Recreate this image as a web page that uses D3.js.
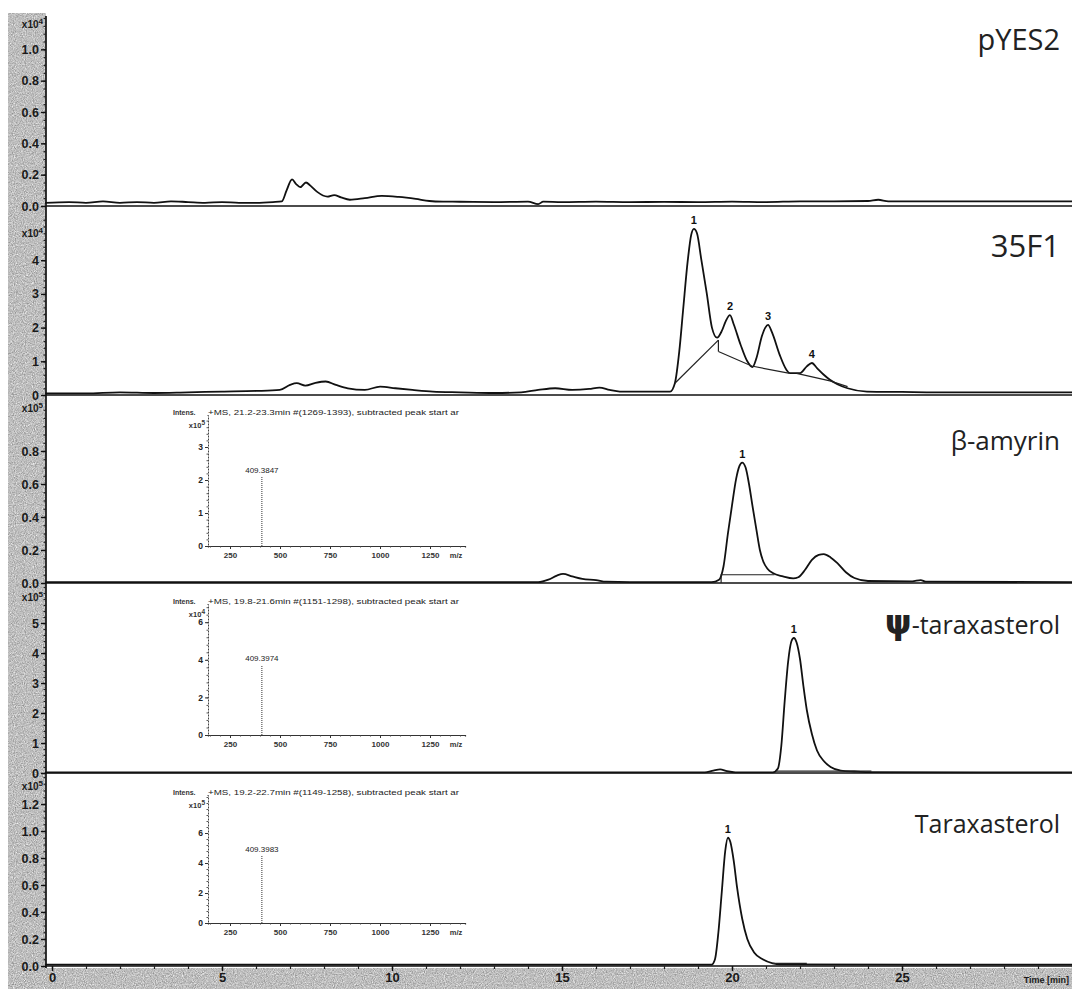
<!DOCTYPE html>
<html><head><meta charset="utf-8">
<script src="https://cdn.jsdelivr.net/npm/d3@7"></script>
<style>body{margin:0;background:#fff}svg{display:block}</style>
</head><body><script>
// ---------- DATA ----------
const timeTicks = [0, 5, 10, 15, 20, 25];
const sampleNames = ["pYES2", "35F1", "β-amyrin", "ψ-taraxasterol", "Taraxasterol"];
const yTickValues = [[0,0.2,0.4,0.6,0.8,1.0],[0,1,2,3,4],[0,0.2,0.4,0.6,0.8],[0,1,2,3,4,5],[0,0.2,0.4,0.6,0.8,1.0,1.2]];
const yExponents = [4, 4, 5, 5, 5];

const tracePYES2 = [[-0.2,0.02],[0.5,0.025],[1,0.02],[1.5,0.03],[2,0.02],[2.5,0.025],[3,0.02],[3.5,0.03],[4,0.025],[4.5,0.02],[5,0.025],[5.5,0.02],[6,0.02],[6.5,0.025],[6.76,0.03],[6.9,0.1],[7.06,0.17],[7.18,0.14],[7.3,0.12],[7.47,0.15],[7.6,0.13],[7.8,0.09],[8.1,0.06],[8.3,0.07],[8.5,0.055],[8.76,0.04],[9.2,0.05],[9.7,0.065],[10.2,0.058],[10.7,0.045],[11.1,0.032],[11.5,0.028],[12,0.027],[13,0.025],[14,0.028],[14.3,0.012],[14.45,0.028],[15,0.025],[16,0.028],[17,0.025],[18,0.026],[19,0.025],[20,0.028],[21,0.025],[22,0.03],[23,0.03],[24,0.032],[24.3,0.04],[24.6,0.03],[25,0.03],[26,0.03],[27,0.03],[28,0.03],[29,0.03],[30.2,0.03]];

const trace35F1 = [[-0.2,0.05],[1,0.05],[2,0.08],[3,0.06],[4,0.08],[5,0.1],[6,0.12],[6.7,0.15],[7.0,0.3],[7.2,0.35],[7.45,0.28],[7.75,0.36],[8.05,0.4],[8.35,0.3],[8.7,0.2],[9.2,0.15],[9.65,0.25],[10.1,0.2],[10.6,0.15],[11.2,0.1],[12,0.08],[13,0.06],[13.8,0.08],[14.3,0.15],[14.8,0.2],[15.3,0.15],[15.8,0.18],[16.1,0.22],[16.4,0.15],[16.7,0.1],[17.5,0.1],[18.18,0.1],[18.32,0.35],[18.45,1.3],[18.56,2.5],[18.7,4.0],[18.8,4.75],[18.88,4.93],[18.97,4.8],[19.1,4.0],[19.26,3.0],[19.41,2.0],[19.56,1.7],[19.7,1.9],[19.82,2.2],[19.94,2.37],[20.05,2.1],[20.25,1.5],[20.45,1.0],[20.6,0.83],[20.72,1.1],[20.88,1.75],[20.98,2.0],[21.06,2.08],[21.18,1.85],[21.4,1.2],[21.6,0.75],[21.7,0.65],[22.0,0.65],[22.2,0.85],[22.35,0.95],[22.5,0.8],[22.7,0.6],[22.88,0.45],[23.1,0.32],[23.4,0.2],[23.97,0.1],[25,0.09],[26,0.08],[28,0.08],[30.2,0.08]];

const traceBAmyrin = [[-0.2,0.005],[5,0.005],[10,0.005],[14.3,0.005],[14.6,0.02],[14.85,0.045],[15.03,0.055],[15.3,0.04],[15.6,0.025],[16.0,0.018],[16.3,0.008],[17,0.005],[19.4,0.005],[19.62,0.02],[19.75,0.1],[19.88,0.3],[20.0,0.47],[20.12,0.63],[20.22,0.71],[20.3,0.73],[20.4,0.7],[20.5,0.6],[20.6,0.47],[20.72,0.32],[20.82,0.2],[20.92,0.13],[21.05,0.085],[21.2,0.06],[21.5,0.04],[21.8,0.028],[21.95,0.035],[22.15,0.08],[22.35,0.14],[22.55,0.17],[22.7,0.175],[22.9,0.155],[23.1,0.12],[23.35,0.065],[23.6,0.03],[24.0,0.012],[25.3,0.01],[25.55,0.018],[25.7,0.008],[30.2,0.005]];

const tracePsiTarax = [[-0.2,0.02],[5,0.02],[10,0.02],[15,0.02],[19.2,0.02],[19.45,0.08],[19.65,0.12],[19.85,0.06],[20.1,0.02],[21.2,0.02],[21.35,0.15],[21.45,0.9],[21.55,2.4],[21.65,3.7],[21.75,4.4],[21.82,4.5],[21.9,4.35],[22.0,3.8],[22.1,2.9],[22.2,2.1],[22.35,1.3],[22.5,0.75],[22.7,0.4],[22.9,0.2],[23.2,0.08],[23.6,0.05],[24.0,0.03],[30.2,0.02]];

const traceTarax = [[-0.2,0.01],[5,0.01],[10,0.01],[15,0.01],[19.4,0.01],[19.5,0.05],[19.6,0.25],[19.7,0.55],[19.8,0.85],[19.88,0.95],[19.95,0.92],[20.05,0.78],[20.15,0.58],[20.3,0.35],[20.45,0.2],[20.65,0.1],[20.9,0.05],[21.2,0.02],[21.4,0.012],[30.2,0.01]];

const traces = [tracePYES2, trace35F1, traceBAmyrin, tracePsiTarax, traceTarax];

// integration baselines drawn by the software
const integrationLines = [
  [],
  [[[18.32,0.35],[19.6,1.63]], [[19.6,1.63],[19.6,1.29]], [[19.6,1.29],[20.58,0.86],[21.7,0.64]], [[21.9,0.64],[22.88,0.42],[23.4,0.25]]],
  [[[19.68,0.0],[19.68,0.05],[21.25,0.05]]],
  [[[21.3,0.06],[24.1,0.06]]],
  [[[21.2,0.02],[22.2,0.02]]]
];
// peak numbers: [panel, label, time, value]
const peakLabels = [[1,"1",18.88,4.93],[1,"2",19.94,2.37],[1,"3",21.06,2.08],[1,"4",22.35,0.95],[2,"1",20.3,0.73],[3,"1",21.82,4.5],[4,"1",19.88,0.95]];

// inset mass spectra
const msPeakMz = [409.3847, 409.3974, 409.3983];
const msPeakLabels = ["409.3847", "409.3974", "409.3983"];
const msPeakHeights = [2.1, 3.7, 4.5];
const msExponents = [5, 4, 5];
const msHeaders = ["+MS, 21.2-23.3min #(1269-1393), subtracted peak start ar",
                   "+MS, 19.8-21.6min #(1151-1298), subtracted peak start ar",
                   "+MS, 19.2-22.7min #(1149-1258), subtracted peak start ar"];
const msYTicks = [[0,1,2,3],[0,2,4,6],[0,2,4,6]];
const mzTicks = [250, 500, 750, 1000, 1250];

// ---------- LAYOUT ----------
const W = 1072, H = 989;
const axisX = 46;
const panelLayout = [
  {top:18,  base:206, max:1.2,            expY:28,  minor:0.05, fmt:".1f", titleY:50,  fs:29},
  {top:214, base:395, max:(395-214)/33.7, expY:237, minor:0.2,  fmt:"d",   titleY:257, fs:31},
  {top:402, base:583, max:(583-402)/165,  expY:412, minor:0.05, fmt:".1f", titleY:450, fs:26},
  {top:586, base:773, max:(773-586)/30,   expY:601, minor:0.2,  fmt:"d",   titleY:634, fs:25},
  {top:775, base:966, max:(966-775)/135,  expY:790, minor:0.05, fmt:".1f", titleY:833, fs:25}
];
const insetLayout = [
  {left:208, right:465, top:415, base:546, max:(546-415)/33,   minor:0.2},
  {left:208, right:465, top:604, base:735, max:(735-604)/18.8, minor:0.4},
  {left:208, right:465, top:795, base:923, max:(923-795)/15,   minor:0.4}
];

const svg = d3.select("body").append("svg").attr("width", W).attr("height", H)
  .style("font-family", "'Liberation Sans Narrow','Liberation Sans',Arial,sans-serif");

const defs = svg.append("defs");
const f = defs.append("filter").attr("id","grain").attr("x",0).attr("y",0).attr("width","100%").attr("height","100%")
  .attr("color-interpolation-filters","sRGB");
f.append("feTurbulence").attr("type","fractalNoise").attr("baseFrequency",0.9).attr("numOctaves",2).attr("seed",5).attr("result","n");
f.append("feColorMatrix").attr("in","n").attr("type","matrix")
  .attr("values","0.33 0.33 0.33 0 0  0.33 0.33 0.33 0 0  0.33 0.33 0.33 0 0  0 0 0 0 1").attr("result","g");
const ct = f.append("feComponentTransfer").attr("in","g");
["feFuncR","feFuncG","feFuncB"].forEach(n=>ct.append(n).attr("type","linear").attr("slope",1.1).attr("intercept",0.2));

svg.append("rect").attr("width",W).attr("height",H).attr("fill","#fff");
const grey = svg.append("g");
grey.append("rect").attr("x",8).attr("y",13).attr("width",axisX-8).attr("height",H-13).attr("fill","#c0c0c0");
grey.append("rect").attr("x",8).attr("y",968).attr("width",W-8).attr("height",H-968).attr("fill","#c0c0c0");
grey.append("rect").attr("x",8).attr("y",13).attr("width",axisX-8).attr("height",H-13).attr("filter","url(#grain)").attr("opacity",0.8);
grey.append("rect").attr("x",8).attr("y",968).attr("width",W-8).attr("height",H-968).attr("filter","url(#grain)").attr("opacity",0.8);

const x = d3.scaleLinear().domain([0, 30]).range([52, 1072]);

svg.append("line").attr("x1",axisX).attr("x2",axisX).attr("y1",16).attr("y2",968)
  .attr("stroke","#111").attr("stroke-width",1.7);

panelLayout.forEach((p, i) => {
  const y = d3.scaleLinear().domain([0, p.max]).range([p.base, p.top]);
  const g = svg.append("g");
  const minorVals = d3.range(0, p.max + 1e-9, p.minor);
  g.append("g").attr("transform",`translate(${axisX},0)`)
    .call(d3.axisLeft(y).tickValues(minorVals).tickSize(2.5).tickFormat(""))
    .call(a => { a.select(".domain").remove(); a.selectAll("line").attr("stroke","#222").attr("stroke-width",1.2); });
  g.append("g").attr("transform",`translate(${axisX},0)`)
    .call(d3.axisLeft(y).tickValues(yTickValues[i]).tickSize(5).tickPadding(2).tickFormat(d3.format(p.fmt)))
    .call(a => { a.select(".domain").remove();
      a.selectAll("line").attr("stroke","#111").attr("stroke-width",1.4);
      a.selectAll("text").attr("font-size",12.5).attr("font-weight","bold").attr("fill","#1a1a1a"); });
  const ex = g.append("text").attr("x",43).attr("y",p.expY).attr("text-anchor","end")
    .attr("font-size",10).attr("font-weight","bold").attr("fill","#1a1a1a");
  ex.append("tspan").text("x10");
  ex.append("tspan").attr("dy",-4).attr("font-size",8).text(yExponents[i]);
  g.append("line").attr("x1",axisX).attr("x2",W).attr("y1",y(0)).attr("y2",y(0))
    .attr("stroke","#111").attr("stroke-width",1.7);
  const line = d3.line().x(d=>x(d[0])).y(d=>y(d[1])).curve(d3.curveMonotoneX);
  g.append("path").datum(traces[i]).attr("d",line).attr("fill","none")
    .attr("stroke","#111").attr("stroke-width",1.8).attr("stroke-linejoin","round");
  const lin = d3.line().x(d=>x(d[0])).y(d=>y(d[1]));
  integrationLines[i].forEach(seg => {
    g.append("path").datum(seg).attr("d",lin).attr("fill","none")
      .attr("stroke","#222").attr("stroke-width",1.2);
  });
  peakLabels.filter(d=>d[0]===i).forEach(d => {
    g.append("text").attr("x",x(d[2])).attr("y",y(d[3])-5).attr("text-anchor","middle")
      .attr("font-size",11).attr("font-weight","bold").attr("fill","#111").text(d[1]);
  });
  const t = g.append("text").attr("x",1060).attr("y",p.titleY).attr("text-anchor","end")
    .attr("font-family","'Open Sans','DejaVu Sans',sans-serif").attr("font-size",p.fs).attr("fill","#222");
  if (sampleNames[i].startsWith("ψ")) {
    t.append("tspan").attr("font-size",34).attr("font-weight","bold").attr("font-family","'DejaVu Sans',sans-serif").text("ψ");
    t.append("tspan").text(sampleNames[i].slice(1));
  } else t.text(sampleNames[i]);
});

// bottom time axis
const bottom = svg.append("g").attr("transform","translate(0,966)");
bottom.append("g").call(d3.axisBottom(x).tickValues(d3.range(0,31,1)).tickSize(3).tickFormat(""))
  .call(a=>{a.select(".domain").remove(); a.selectAll("line").attr("stroke","#222").attr("stroke-width",1.2);});
bottom.append("g").call(d3.axisBottom(x).tickValues(timeTicks).tickSize(5).tickPadding(2).tickFormat(d3.format("d")))
  .call(a=>{a.select(".domain").remove(); a.selectAll("line").attr("stroke","#111").attr("stroke-width",1.4);
    a.selectAll("text").attr("font-size",13).attr("font-weight","bold").attr("fill","#1a1a1a");});
svg.append("text").attr("x",1069).attr("y",983).attr("text-anchor","end").attr("font-size",9)
  .attr("font-weight","bold").attr("fill","#1a1a1a").text("Time [min]");

// insets
insetLayout.forEach((L, k) => {
  const mx = d3.scaleLinear().domain([140, 1425]).range([L.left, L.right]);
  const my = d3.scaleLinear().domain([0, L.max]).range([L.base, L.top]);
  const g = svg.append("g");
  g.append("g").attr("transform",`translate(${L.left},0)`)
    .call(d3.axisLeft(my).tickValues(d3.range(0, L.max, L.minor)).tickSize(1.5).tickFormat(""))
    .call(a=>{a.select(".domain").attr("stroke","#444").attr("stroke-width",1).attr("stroke-dasharray","2,1");
      a.selectAll("line").attr("stroke","#555");});
  g.append("g").attr("transform",`translate(${L.left},0)`)
    .call(d3.axisLeft(my).tickValues(msYTicks[k]).tickSize(3).tickPadding(2).tickFormat(d3.format("d")))
    .call(a=>{a.select(".domain").remove(); a.selectAll("line").attr("stroke","#333");
      a.selectAll("text").attr("font-size",8.5).attr("font-weight","bold").attr("fill","#222");});
  g.append("g").attr("transform",`translate(0,${L.base})`)
    .call(d3.axisBottom(mx).tickValues(d3.range(150,1425,50)).tickSize(1.5).tickFormat(""))
    .call(a=>{a.select(".domain").attr("stroke","#333").attr("stroke-width",1.2);
      a.selectAll("line").attr("stroke","#444");});
  g.append("g").attr("transform",`translate(0,${L.base})`)
    .call(d3.axisBottom(mx).tickValues(mzTicks).tickSize(3).tickPadding(3).tickFormat(d3.format("d")))
    .call(a=>{a.select(".domain").remove(); a.selectAll("line").attr("stroke","#333");
      a.selectAll("text").attr("font-size",8).attr("font-weight","bold").attr("fill","#333");});
  g.append("text").attr("x",mx(1380)).attr("y",L.base+12).attr("text-anchor","middle")
    .attr("font-size",7.5).attr("font-weight","bold").attr("fill","#333").text("m/z");
  g.append("text").attr("x",L.left-35).attr("y",L.top).attr("font-size",7).attr("font-weight","bold").attr("fill","#333").text("Intens.");
  g.append("text").attr("x",L.left).attr("y",L.top).attr("font-size",7).attr("fill","#222")
    .attr("textLength",L.right-L.left-6).attr("lengthAdjust","spacingAndGlyphs").text(msHeaders[k]);
  const ex = g.append("text").attr("x",L.left-3).attr("y",L.top+13).attr("text-anchor","end")
    .attr("font-size",7.5).attr("font-weight","bold").attr("fill","#333");
  ex.append("tspan").text("x10");
  ex.append("tspan").attr("dy",-3).attr("font-size",6.5).text(msExponents[k]);
  g.append("line").attr("x1",mx(msPeakMz[k])).attr("x2",mx(msPeakMz[k]))
    .attr("y1",my(0)).attr("y2",my(msPeakHeights[k]))
    .attr("stroke","#333").attr("stroke-width",1).attr("stroke-dasharray","1,1");
  g.append("text").attr("x",mx(msPeakMz[k])).attr("y",my(msPeakHeights[k])-4).attr("text-anchor","middle")
    .attr("font-size",8).attr("fill","#222").text(msPeakLabels[k]);
});
</script></body></html>
